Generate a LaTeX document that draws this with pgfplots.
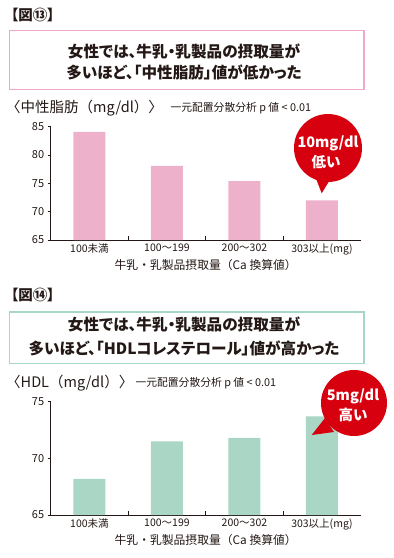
\documentclass[border=0pt]{standalone}
\usepackage{pgfplots}
\pgfplotsset{compat=1.18}
\usepackage{fontspec}
\setmainfont{Noto Sans CJK JP}[RawFeature={+palt}]
\newfontfamily\fullw{Noto Sans CJK JP}
\definecolor{pinkbar}{HTML}{EDB1CC}
\definecolor{greenbar}{HTML}{A9D6C5}
\definecolor{pinkbox}{HTML}{F2A7CB}
\definecolor{greenbox}{HTML}{A6D6C6}
\definecolor{bubred}{HTML}{D7000F}
\definecolor{txt}{HTML}{231815}
\newcommand\fs[1]{\fontsize{#1bp}{#1bp}\selectfont}
\pgfplotsset{
  mybars/.style={
    scale only axis, width=310bp, height=113.3bp, anchor=south west,
    xmin=-0.5, xmax=3.5,
    axis x line*=bottom, axis y line*=left,
    axis line style={txt, line width=0.9bp},
    xtick={0,1,2,3},
    xticklabels={100未満,100〜199,200〜302,303以上(mg)},
    minor xtick={0.5,1.5,2.5},
    major x tick style={draw=none},
    minor x tick style={txt, line width=0.7bp},
    minor tick length=4bp,
    xtick align=inside,
    ytick align=outside,
    major tick length=3bp,
    y tick style={txt, line width=0.8bp},
    /pgf/number format/assume math mode=true,
    yticklabel style={font=\fs{11}, text=txt},
    xticklabel style={font=\fs{10.5}, text=txt},
    xlabel={牛乳・乳製品摂取量（Ca 換算値）},
    xlabel style={at={(axis description cs:0.5,0)}, anchor=center, yshift=-25bp, font=\fullw\fs{11.8}, text=txt},
    clip=true,
  }
}
\begin{document}
\begin{tikzpicture}
\path[use as bounding box] (0,0) rectangle (394bp,-558bp);
% ---- Figure 13 ----
\node[anchor=west, font=\bfseries\fs{14.5}, text=txt] at (7.5bp,-15bp) {【図⑬】};
\draw[pinkbox, line width=1.3bp] (9.3bp,-30.7bp) rectangle (364bp,-89.3bp);
\node[font=\bfseries\fs{15.6}, text=txt] at (184bp,-51.7bp) {女性では、牛乳・乳製品の摂取量が};
\node[font=\bfseries\fs{15.6}, text=txt] at (184bp,-72.3bp) {多いほど、「中性脂肪」値が低かった};
\node[anchor=west, font=\fullw\fs{14.5}, text=txt, inner sep=0pt] at (6bp,-107.7bp) {〈中性脂肪（mg/dl）〉};
\node[anchor=west, font=\fs{10.8}, text=txt] at (167bp,-108.5bp) {一元配置分散分析 p 値 < 0.01};
\begin{axis}[mybars, at={(50.7bp,-240bp)}, ymin=65, ymax=85, ytick={65,70,75,80,85}]
\addplot[ybar, bar width=32bp, fill=pinkbar, draw=none] coordinates {(0,84.1) (1,78.1) (2,75.4) (3,72.0)};
\end{axis}
\fill[bubred] (328bp,-148bp) circle (34bp);
\fill[bubred] (315bp,-176bp) -- (331bp,-178bp) -- (321.7bp,-193.3bp) -- cycle;
\node[font=\bfseries\fs{14.5}, text=white] at (328bp,-143.3bp) {10mg/dl};
\node[font=\bfseries\fs{14.5}, text=white] at (326bp,-161.7bp) {低い};
% ---- Figure 14 ----
\node[anchor=west, font=\bfseries\fs{14.5}, text=txt] at (7.5bp,-295bp) {【図⑭】};
\draw[greenbox, line width=1.3bp] (9.3bp,-312bp) rectangle (364bp,-363.3bp);
\node[font=\bfseries\fs{15.6}, text=txt] at (184bp,-324bp) {女性では、牛乳・乳製品の摂取量が};
\node[font=\bfseries\fs{15.6}, text=txt] at (184bp,-348.5bp) {多いほど、「HDLコレステロール」値が高かった};
\node[anchor=west, font=\fullw\fs{14.5}, text=txt, inner sep=0pt] at (6bp,-382.7bp) {〈HDL（mg/dl）〉};
\node[anchor=west, font=\fs{10.8}, text=txt] at (132bp,-383.5bp) {一元配置分散分析 p 値 < 0.01};
\begin{axis}[mybars, at={(50.7bp,-515bp)}, ymin=65, ymax=75, ytick={65,70,75}]
\addplot[ybar, bar width=32bp, fill=greenbar, draw=none] coordinates {(0,68.2) (1,71.5) (2,71.8) (3,73.7)};
\end{axis}
\fill[bubred] (354bp,-403bp) circle (33bp);
\fill[bubred] (325bp,-418bp) -- (334bp,-432bp) -- (311.7bp,-435bp) -- cycle;
\node[font=\bfseries\fs{14.5}, text=white] at (353bp,-396.7bp) {5mg/dl};
\node[font=\bfseries\fs{14.5}, text=white] at (353bp,-415bp) {高い};
\end{tikzpicture}
\end{document}
